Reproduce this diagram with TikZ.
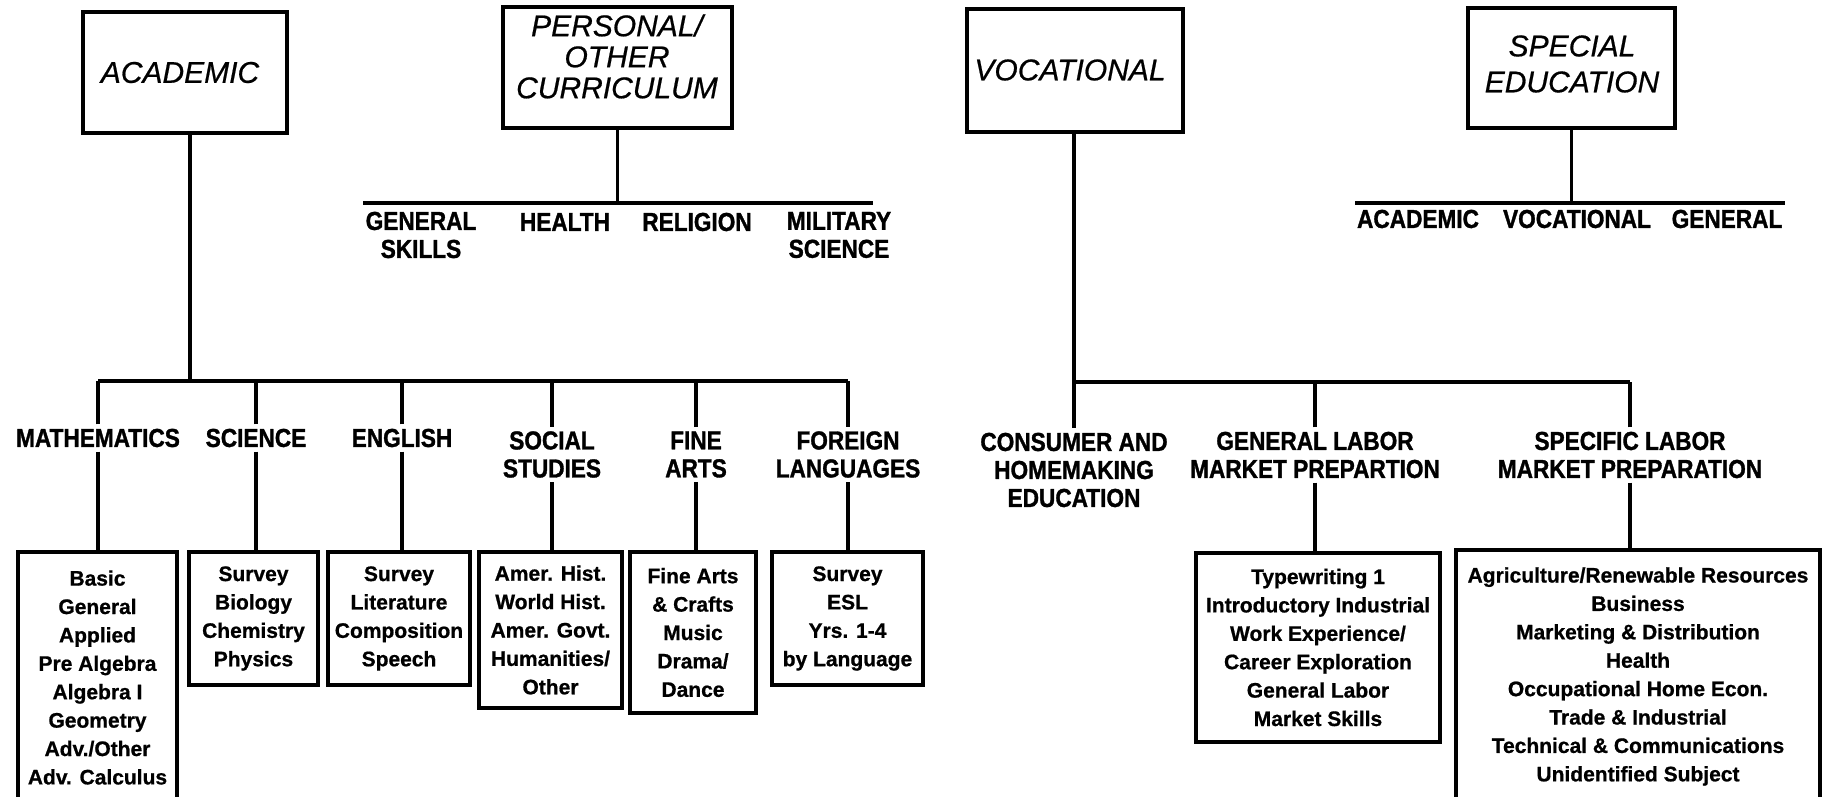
\documentclass[tikz,border=0pt]{standalone}
\usepackage{fontspec}
\setmainfont{Liberation Sans}
\newfontfamily\labfont{Liberation Sans}[FakeStretch=0.87,FakeBold=1.2]
\newfontfamily\boxfont{Liberation Sans}[FakeBold=0.8]
\newfontfamily\headfont{Liberation Sans}[FakeBold=0.6]
\begin{document}
\begin{tikzpicture}[x=0.5pt,y=-0.5pt]
\tikzset{
  conn/.style={line width=1.8pt},
  hbox/.style={draw, line width=2pt, inner sep=0pt},
  htitle/.style={font=\headfont\itshape\fontsize{15}{16}\selectfont, align=center, inner sep=0pt},
  lab/.style={font=\labfont\bfseries\fontsize{13}{14}\selectfont, align=center, inner sep=2pt},
  cbox/.style={draw, line width=1.7pt, inner sep=1pt, align=center, font=\boxfont\bfseries\fontsize{10.5}{14.2}\selectfont}
}
\useasboundingbox (0,0) rectangle (1825,797);
\fill[white] (0,0) rectangle (1825,797);
\clip (0,0) rectangle (1825,797);

% ---------- heading boxes ----------
\node[hbox, minimum width=102pt, minimum height=60.5pt] (acad) at (185,72.5) {};
\node[htitle] (acadt) at (180,72.5) {ACADEMIC};
\node[hbox, minimum width=114.5pt, minimum height=60.5pt] (pers) at (617.5,67.5) {};
\node[htitle, font=\headfont\itshape\fontsize{15}{15.5}\selectfont] (perst) at (617,56.5) {PERSONAL/\\OTHER\\CURRICULUM};
\node[hbox, minimum width=108pt, minimum height=61.5pt] (voc) at (1075,70.5) {};
\node[htitle] (voct) at (1070,70) {VOCATIONAL};
\node[hbox, minimum width=103.5pt, minimum height=60pt] (spe) at (1571.5,68) {};
\node[htitle, font=\headfont\itshape\fontsize{15}{18}\selectfont] (spet) at (1572,64) {SPECIAL\\EDUCATION};

% ---------- personal / other ----------
\coordinate (pbarL) at (363,203);
\coordinate (pbarR) at (873,203);
\draw[conn] (pbarL) -- (pbarR);
\draw[conn] (pers.south) -- (pers.south |- pbarL);
\node[lab] (gs) at (421,235) {GENERAL\\SKILLS};
\node[lab] (health) at (565,222) {HEALTH};
\node[lab] (relig) at (697,222) {RELIGION};
\node[lab] (mil) at (839,235) {MILITARY\\SCIENCE};

% ---------- special education ----------
\coordinate (sbarL) at (1355,203);
\coordinate (sbarR) at (1785,203);
\draw[conn] (sbarL) -- (sbarR);
\draw[conn] (spe.south) -- (spe.south |- sbarL);
\node[lab] (sacad) at (1418,219) {ACADEMIC};
\node[lab] (svoc) at (1577,219) {VOCATIONAL};
\node[lab] (sgen) at (1727,219) {GENERAL};

% ---------- academic ----------
\node[lab] (math) at (98,438) {MATHEMATICS};
\node[lab] (sci) at (256,438) {SCIENCE};
\node[lab] (eng) at (402,438) {ENGLISH};
\node[lab] (soc) at (552,454.5) {SOCIAL\\STUDIES};
\node[lab] (fine) at (696,454.5) {FINE\\ARTS};
\node[lab] (forl) at (848,454.5) {FOREIGN\\LANGUAGES};

\node[cbox, minimum width=79.5pt, minimum height=125.5pt] (bx-math) at (97.5,677.5)
  {Basic\\General\\Applied\\Pre Algebra\\Algebra I\\Geometry\\Adv./Other\\Adv. Calculus};
\node[cbox, minimum width=64.5pt, minimum height=66.5pt] (bx-sci) at (253.5,618.5)
  {Survey\\Biology\\Chemistry\\Physics};
\node[cbox, minimum width=71pt, minimum height=66.5pt] (bx-eng) at (399,618.5)
  {Survey\\Literature\\Composition\\Speech};
\node[cbox, minimum width=71.5pt, minimum height=78pt] (bx-soc) at (550.5,630)
  {Amer. Hist.\\World Hist.\\Amer. Govt.\\Humanities/\\Other};
\node[cbox, minimum width=63pt, minimum height=80.5pt] (bx-fine) at (693,632.5)
  {Fine Arts\\\& Crafts\\Music\\Drama/\\Dance};
\node[cbox, minimum width=75.5pt, minimum height=66.5pt] (bx-forl) at (847.5,618.5)
  {Survey\\ESL\\Yrs. 1-4\\by Language};

\coordinate (abar) at (190,381);
\draw[conn] (acad.south -| abar) -- (abar);
\draw[conn] (math.north |- abar) -- (forl.north |- abar);
\foreach \n in {math,sci,eng,soc,fine,forl} {
  \draw[conn] (\n.north) -- (\n.north |- abar);
  \draw[conn] (\n.south) -- (\n.south |- bx-\n.north);
}

% ---------- vocational ----------
\node[lab] (cons) at (1074,470) {CONSUMER AND\\HOMEMAKING\\EDUCATION};
\node[lab] (genlab) at (1315,455) {GENERAL LABOR\\MARKET PREPARTION};
\node[lab] (speclab) at (1630,455) {SPECIFIC LABOR\\MARKET PREPARATION};

\node[cbox, minimum width=122pt, minimum height=94.5pt] (bx-typ) at (1318,647.5)
  {Typewriting 1\\Introductory Industrial\\Work Experience/\\Career Exploration\\General Labor\\Market Skills};
\node[cbox, minimum width=182pt, minimum height=126.5pt] (bx-spec) at (1638,676.5)
  {Agriculture/Renewable Resources\\Business\\Marketing \& Distribution\\Health\\Occupational Home Econ.\\Trade \& Industrial\\Technical \& Communications\\Unidentified Subject};

\coordinate (vbar) at (1074,382);
\draw[conn] (voc.south -| cons.north) -- (cons.north);
\draw[conn] (cons.north |- vbar) -- (speclab.north |- vbar);
\draw[conn] (genlab.north) -- (genlab.north |- vbar);
\draw[conn] (speclab.north) -- (speclab.north |- vbar);
\draw[conn] (genlab.south) -- (genlab.south |- bx-typ.north);
\draw[conn] (speclab.south) -- (speclab.south |- bx-spec.north);
\end{tikzpicture}
\end{document}
